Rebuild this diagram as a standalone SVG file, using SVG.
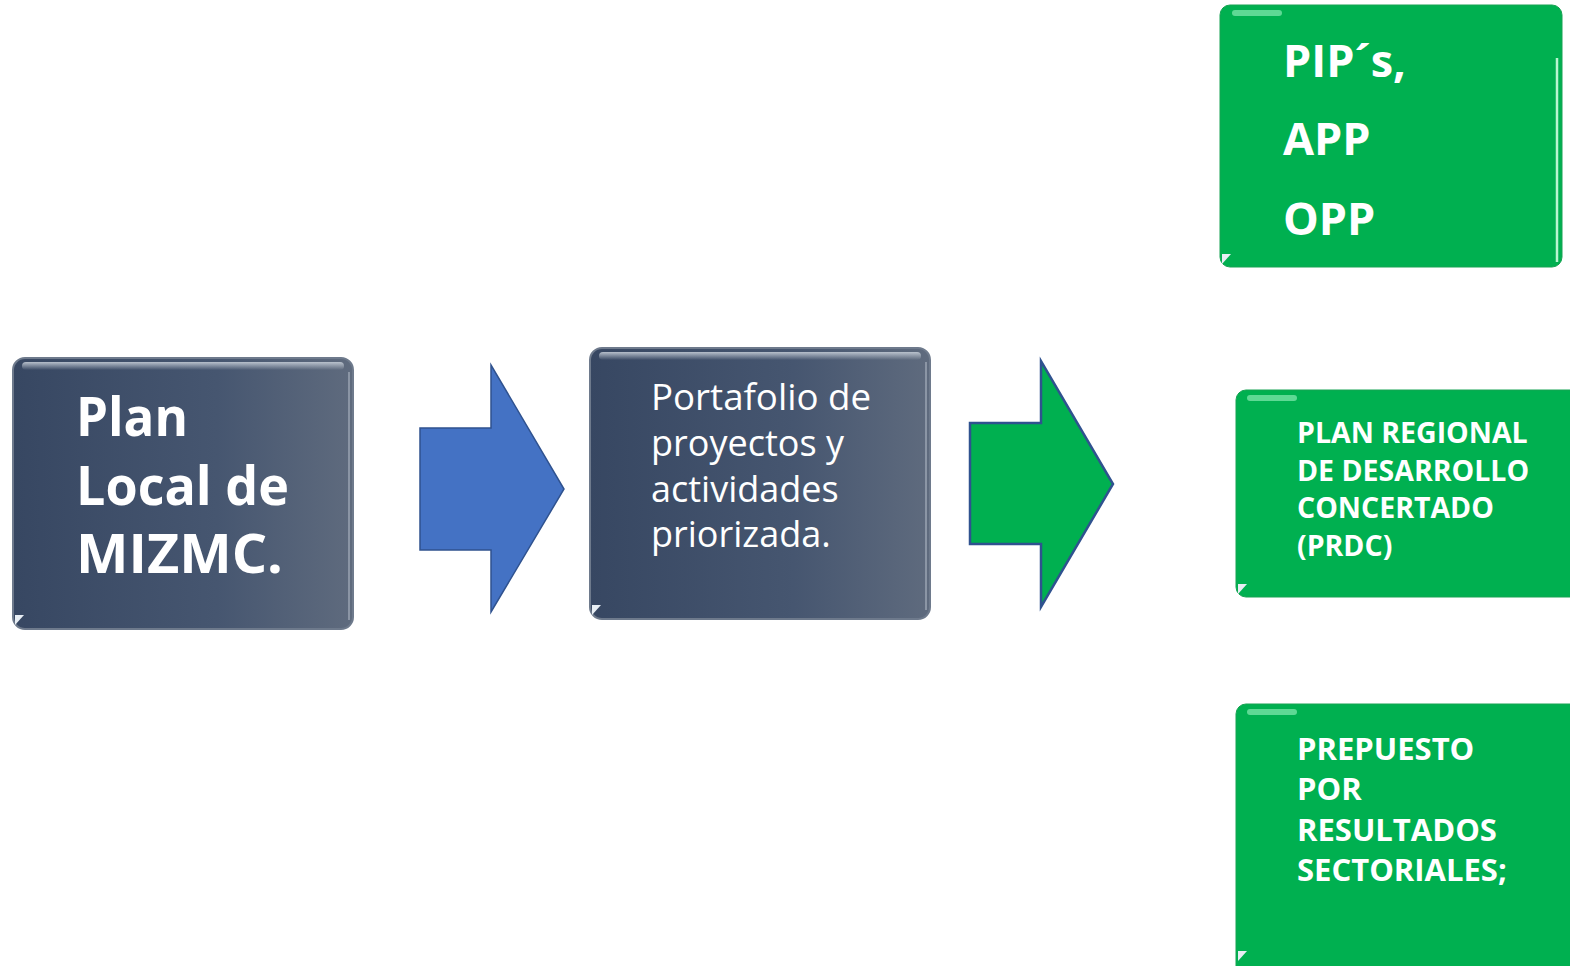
<svg xmlns="http://www.w3.org/2000/svg" width="1570" height="966" viewBox="0 0 1570 966">
<defs>
<linearGradient id="dark" x1="0" y1="0" x2="1" y2="0">
<stop offset="0" stop-color="#374762"/>
<stop offset="0.6" stop-color="#465670"/>
<stop offset="1" stop-color="#5f6b7e"/>
</linearGradient>
<linearGradient id="topHi" x1="0" y1="0" x2="0" y2="1">
<stop offset="0" stop-color="#c4ccd6" stop-opacity="0.9"/>
<stop offset="1" stop-color="#c4ccd6" stop-opacity="0"/>
</linearGradient>
</defs>
<style>
.darkbox{fill:url(#dark);stroke:#6e7a8c;stroke-width:2}
.greenbox{fill:#00b050;stroke:#17a352;stroke-width:1}
.hi{fill:url(#topHi)}
.ghi{fill:#6fe0a0;opacity:0.85}
.corner{fill:#e8eef4}
.t{font-family:"Open Sans","Noto Sans",sans-serif;fill:#ffffff}
.big{font-size:54px;font-weight:700}
.mid{font-size:36px;font-weight:400}
.g1{font-size:45px;font-weight:700}
.g2{font-size:28.5px;font-weight:700}
.g3{font-size:31px;font-weight:700}
.arrowB{fill:#4472c4;stroke:#2f528f;stroke-width:1.5}
.arrowG{fill:#00b050;stroke:#2f528f;stroke-width:2.5}
</style>
<g id="node-plan-local">
<rect class="darkbox" x="13" y="358" width="340" height="271" rx="12"/>
<rect class="hi" x="22" y="362" width="322" height="8" rx="4"/>
<line x1="349" y1="372" x2="349" y2="620" stroke="#a9b3c0" stroke-width="2" opacity="0.6"/>
<path class="corner" d="M15 615 L24 615 L15 625 Z"/>
<text class="t big"><tspan x="76" y="436" textLength="112" lengthAdjust="spacingAndGlyphs">Plan</tspan><tspan x="76" y="505" textLength="213" lengthAdjust="spacingAndGlyphs">Local de</tspan><tspan x="76" y="573" textLength="207" lengthAdjust="spacingAndGlyphs">MIZMC.</tspan></text>
</g>
<g id="node-portafolio">
<rect class="darkbox" x="590" y="348" width="340" height="271" rx="12"/>
<rect class="hi" x="599" y="352" width="322" height="8" rx="4"/>
<line x1="926" y1="362" x2="926" y2="610" stroke="#a9b3c0" stroke-width="2" opacity="0.6"/>
<path class="corner" d="M592 605 L601 605 L592 615 Z"/>
<text class="t mid"><tspan x="651" y="410" textLength="220" lengthAdjust="spacingAndGlyphs">Portafolio de</tspan><tspan x="651" y="456">proyectos y</tspan><tspan x="651" y="502">actividades</tspan><tspan x="651" y="547">priorizada.</tspan></text>
</g>
<g id="node-pips">
<rect class="greenbox" x="1220" y="5" width="342" height="262" rx="10"/>
<rect class="ghi" x="1232" y="10" width="50" height="6" rx="3"/>
<line x1="1557" y1="58" x2="1557" y2="262" stroke="#b8f5d0" stroke-width="2.5"/>
<path class="corner" d="M1222 254 L1231 254 L1222 264 Z"/>
<text class="t g1"><tspan x="1283" y="77">PIP´s,</tspan><tspan x="1283" y="155">APP</tspan><tspan x="1283" y="235">OPP</tspan></text>
</g>
<g id="node-prdc">
<rect class="greenbox" x="1236" y="390" width="350" height="207" rx="10"/>
<rect class="ghi" x="1247" y="395" width="50" height="6" rx="3"/>
<path class="corner" d="M1238 584 L1247 584 L1238 594 Z"/>
<text class="t g2"><tspan x="1297" y="443">PLAN REGIONAL</tspan><tspan x="1297" y="481">DE DESARROLLO</tspan><tspan x="1297" y="518">CONCERTADO</tspan><tspan x="1297" y="556">(PRDC)</tspan></text>
</g>
<g id="node-presupuesto">
<rect class="greenbox" x="1236" y="704" width="350" height="280" rx="10"/>
<rect class="ghi" x="1247" y="709" width="50" height="6" rx="3"/>
<path class="corner" d="M1238 951 L1247 951 L1238 961 Z"/>
<text class="t g3"><tspan x="1297" y="760">PREPUESTO</tspan><tspan x="1297" y="800">POR</tspan><tspan x="1297" y="841">RESULTADOS</tspan><tspan x="1297" y="881">SECTORIALES;</tspan></text>
</g>
<g id="connectors">
<polygon class="arrowB" points="420,428 491,428 491,365 564,489 491,612 491,550 420,550"/>
<polygon class="arrowG" points="970,423 1041,423 1041,361 1113,484 1041,607 1041,544 970,544"/>
</g>
</svg>
